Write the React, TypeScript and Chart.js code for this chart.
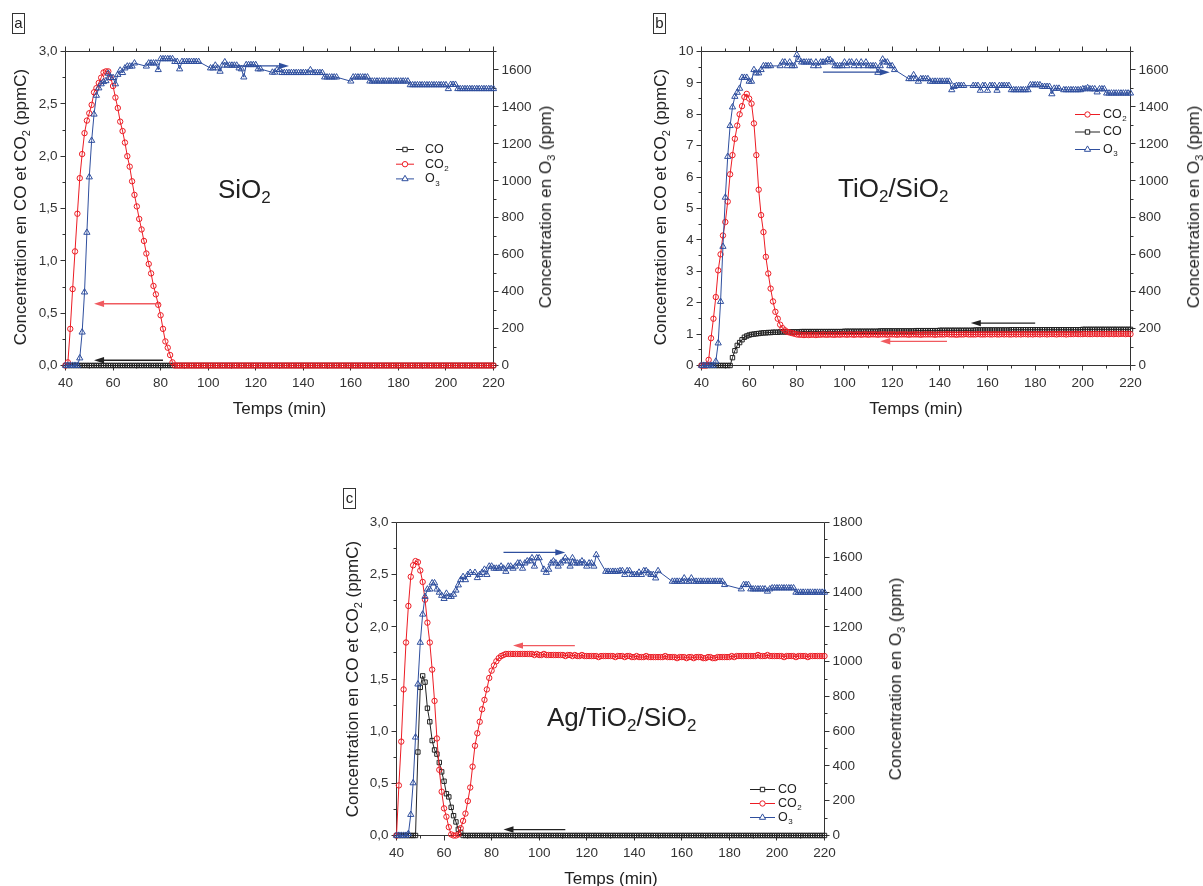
import React, { useEffect, useRef } from "react";
import { Chart, registerables } from "chart.js";

Chart.register(...registerables);

const FONT = '"Liberation Sans", Arial, Helvetica, sans-serif';
const RED = "#ec1c24";
const RED_ARROW = "#f05a5f";
const BLACK = "#222222";
const BLUE = "#2f4f9e";
const AXIS = "#333333";
const TEXT = "#222222";

// time axis (min)
const TIME = [
  40, 41, 42, 43, 44, 45, 46, 47, 48, 49,
  50, 51, 52, 53, 54, 55, 56, 57, 58, 59,
  60, 61, 62, 63, 64, 65, 66, 67, 68, 69,
  70, 71, 72, 73, 74, 75, 76, 77, 78, 79,
  80, 81, 82, 83, 84, 85, 86, 87, 88, 89,
  90, 91, 92, 93, 94, 95, 96, 97, 98, 99,
  100, 101, 102, 103, 104, 105, 106, 107, 108, 109,
  110, 111, 112, 113, 114, 115, 116, 117, 118, 119,
  120, 121, 122, 123, 124, 125, 126, 127, 128, 129,
  130, 131, 132, 133, 134, 135, 136, 137, 138, 139,
  140, 141, 142, 143, 144, 145, 146, 147, 148, 149,
  150, 151, 152, 153, 154, 155, 156, 157, 158, 159,
  160, 161, 162, 163, 164, 165, 166, 167, 168, 169,
  170, 171, 172, 173, 174, 175, 176, 177, 178, 179,
  180, 181, 182, 183, 184, 185, 186, 187, 188, 189,
  190, 191, 192, 193, 194, 195, 196, 197, 198, 199,
  200, 201, 202, 203, 204, 205, 206, 207, 208, 209,
  210, 211, 212, 213, 214, 215, 216, 217, 218, 219,
  220,
];

const X_TICKS = [40, 60, 80, 100, 120, 140, 160, 180, 200, 220];
const Y_TICKS_AC = [0, 0.5, 1, 1.5, 2, 2.5, 3];
const Y_TICKS_B = [0, 1, 2, 3, 4, 5, 6, 7, 8, 9, 10];
const O3_TICKS_AB = [0, 200, 400, 600, 800, 1000, 1200, 1400, 1600];
const O3_TICKS_C = [0, 200, 400, 600, 800, 1000, 1200, 1400, 1600, 1800];

// ---------- Panel a : SiO2 ----------
const A_CO = [
  0, 0, 0, 0, 0, 0, 0, 0, 0, 0,
  0, 0, 0, 0, 0, 0, 0, 0, 0, 0,
  0, 0, 0, 0, 0, 0, 0, 0, 0, 0,
  0, 0, 0, 0, 0, 0, 0, 0, 0, 0,
  0, 0, 0, 0, 0, 0, 0, 0, 0, 0,
  0, 0, 0, 0, 0, 0, 0, 0, 0, 0,
  0, 0, 0, 0, 0, 0, 0, 0, 0, 0,
  0, 0, 0, 0, 0, 0, 0, 0, 0, 0,
  0, 0, 0, 0, 0, 0, 0, 0, 0, 0,
  0, 0, 0, 0, 0, 0, 0, 0, 0, 0,
  0, 0, 0, 0, 0, 0, 0, 0, 0, 0,
  0, 0, 0, 0, 0, 0, 0, 0, 0, 0,
  0, 0, 0, 0, 0, 0, 0, 0, 0, 0,
  0, 0, 0, 0, 0, 0, 0, 0, 0, 0,
  0, 0, 0, 0, 0, 0, 0, 0, 0, 0,
  0, 0, 0, 0, 0, 0, 0, 0, 0, 0,
  0, 0, 0, 0, 0, 0, 0, 0, 0, 0,
  0, 0, 0, 0, 0, 0, 0, 0, 0, 0,
  0,
];
const A_CO2 = [
  0, 0.03, 0.35, 0.73, 1.09, 1.45, 1.79, 2.02, 2.22, 2.34,
  2.41, 2.49, 2.61, 2.65, 2.7, 2.75, 2.8, 2.81, 2.81, 2.75,
  2.67, 2.56, 2.46, 2.33, 2.24, 2.13, 2.0, 1.9, 1.76, 1.63,
  1.52, 1.4, 1.3, 1.19, 1.07, 0.97, 0.88, 0.76, 0.68, 0.58,
  0.48, 0.35, 0.23, 0.17, 0.1, 0.03, 0, 0, 0, 0,
  0, 0, 0, 0, 0, 0, 0, 0, 0, 0,
  0, 0, 0, 0, 0, 0, 0, 0, 0, 0,
  0, 0, 0, 0, 0, 0, 0, 0, 0, 0,
  0, 0, 0, 0, 0, 0, 0, 0, 0, 0,
  0, 0, 0, 0, 0, 0, 0, 0, 0, 0,
  0, 0, 0, 0, 0, 0, 0, 0, 0, 0,
  0, 0, 0, 0, 0, 0, 0, 0, 0, 0,
  0, 0, 0, 0, 0, 0, 0, 0, 0, 0,
  0, 0, 0, 0, 0, 0, 0, 0, 0, 0,
  0, 0, 0, 0, 0, 0, 0, 0, 0, 0,
  0, 0, 0, 0, 0, 0, 0, 0, 0, 0,
  0, 0, 0, 0, 0, 0, 0, 0, 0, 0,
  0, 0, 0, 0, 0, 0, 0, 0, 0, 0,
  0,
];
const A_O3 = [
  0, 0, 0, 0, 0, 0, 40, 180, 397, 720,
  1020, 1218, 1360, 1462, 1502, 1524, 1536, 1541, 1581, 1558,
  1558, 1524, 1575, 1598, 1585, 1610, 1620, 1620, 1620, 1637,
  null, null, null, null, 1620, 1637, 1637, 1637, 1637, 1601,
  1660, 1660, 1660, 1660, 1660, 1660, 1645, 1645, 1605, 1645,
  1645, 1645, 1645, 1645, 1645, 1645, 1645, null, null, null,
  null, 1610, 1610, 1625, 1610, 1592, 1625, 1643, 1625, 1625,
  1625, 1625, 1625, 1610, 1605, 1561, 1628, 1628, 1628, 1628,
  1628, 1605, 1605, null, null, null, null, 1587, 1587, 1601,
  1601, 1585, 1585, 1585, 1585, 1585, 1585, 1585, 1585, 1585,
  1585, 1585, 1585, 1600, 1585, 1585, 1585, 1585, 1585, 1561,
  1561, 1561, 1561, 1561, 1561, null, null, null, null, null,
  1539, 1561, 1561, 1561, 1561, 1561, 1561, 1561, 1539, 1539,
  1539, 1539, 1539, 1539, 1539, 1539, 1539, 1539, 1539, 1539,
  1539, 1539, 1539, 1539, 1539, 1519, 1519, 1519, 1519, 1519,
  1519, 1519, 1519, 1519, 1519, 1519, 1519, 1519, 1519, 1519,
  1519, 1498, 1521, 1521, 1521, 1498, 1498, 1498, 1498, 1498,
  1498, 1498, 1498, 1498, 1498, 1498, 1498, 1498, 1498, 1498,
  1498,
];

// ---------- Panel b : TiO2/SiO2 ----------
const B_CO2 = [
  0, 0, 0, 0.18, 0.87, 1.49, 2.18, 3.03, 3.54, 4.14,
  4.57, 5.22, 6.09, 6.7, 7.22, 7.64, 8.0, 8.26, 8.55, 8.65,
  8.5, 8.34, 7.71, 6.7, 5.6, 4.79, 4.25, 3.46, 2.93, 2.45,
  2.04, 1.71, 1.49, 1.3, 1.19, 1.12, 1.07, 1.05, 1.03, 1.01,
  0.99, 0.98, 0.98, 0.97, 0.98, 0.97, 0.98, 0.98, 0.97, 0.98,
  0.98, 0.99, 0.98, 0.98, 0.99, 0.98, 0.98, 0.99, 0.98, 0.99,
  0.99, 0.98, 0.99, 0.99, 0.98, 0.99, 0.99, 0.98, 0.99, 0.99,
  0.98, 0.99, 0.99, 0.99, 0.98, 0.99, 0.99, 0.99, 0.98, 0.99,
  0.99, 0.99, 0.98, 0.99, 0.99, 0.99, 0.99, 0.98, 0.99, 0.99,
  0.99, 0.99, 0.98, 0.99, 0.99, 0.99, 0.99, 0.99, 0.98, 0.99,
  0.99, 0.99, 0.99, 1.0, 0.99, 0.99, 0.99, 0.98, 0.99, 0.99,
  0.99, 1.0, 0.99, 0.99, 0.99, 0.99, 1.0, 0.99, 0.99, 0.99,
  1.0, 0.99, 0.99, 1.0, 0.99, 0.99, 1.0, 0.99, 1.0, 0.99,
  0.99, 1.0, 0.99, 1.0, 0.99, 1.0, 1.0, 0.99, 1.0, 0.99,
  1.0, 1.0, 0.99, 1.0, 1.0, 0.99, 1.0, 1.0, 1.0, 0.99,
  1.0, 1.0, 1.0, 0.99, 1.0, 1.0, 1.0, 1.01, 1.0, 1.0,
  1.0, 1.01, 1.0, 1.0, 1.0, 1.01, 1.0, 1.01, 1.0, 1.0,
  1.01, 1.0, 1.01, 1.0, 1.01, 1.0, 1.01, 1.01, 1.0, 1.01,
  1.0,
];
const B_CO = [
  0, 0, 0, 0, 0, 0, 0, 0, 0, 0,
  0, 0, 0, 0.25, 0.47, 0.64, 0.73, 0.82, 0.9, 0.94,
  0.97, 0.99, 1.0, 1.01, 1.02, 1.03, 1.04, 1.04, 1.05, 1.05,
  1.06, 1.06, 1.06, 1.07, 1.07, 1.07, 1.07, 1.07, 1.07, 1.07,
  1.07, 1.07, 1.08, 1.08, 1.08, 1.08, 1.08, 1.08, 1.08, 1.08,
  1.08, 1.08, 1.08, 1.08, 1.08, 1.08, 1.08, 1.08, 1.08, 1.08,
  1.09, 1.09, 1.09, 1.09, 1.09, 1.09, 1.09, 1.09, 1.09, 1.09,
  1.09, 1.09, 1.09, 1.09, 1.09, 1.1, 1.1, 1.1, 1.1, 1.1,
  1.1, 1.1, 1.1, 1.1, 1.1, 1.1, 1.1, 1.1, 1.1, 1.1,
  1.11, 1.11, 1.11, 1.11, 1.11, 1.11, 1.11, 1.11, 1.11, 1.11,
  1.12, 1.12, 1.12, 1.12, 1.12, 1.12, 1.12, 1.12, 1.12, 1.12,
  1.12, 1.12, 1.12, 1.12, 1.12, 1.13, 1.13, 1.13, 1.13, 1.13,
  1.13, 1.13, 1.13, 1.13, 1.13, 1.13, 1.13, 1.13, 1.13, 1.13,
  1.14, 1.14, 1.14, 1.14, 1.14, 1.14, 1.14, 1.14, 1.14, 1.14,
  1.14, 1.14, 1.14, 1.14, 1.14, 1.14, 1.14, 1.14, 1.14, 1.14,
  1.14, 1.14, 1.14, 1.14, 1.14, 1.14, 1.14, 1.14, 1.14, 1.14,
  1.15, 1.15, 1.15, 1.15, 1.15, 1.15, 1.15, 1.15, 1.15, 1.15,
  1.15, 1.15, 1.15, 1.15, 1.15, 1.15, 1.15, 1.15, 1.15, 1.15,
  1.15,
];
const B_O3 = [
  0, 0, 0, 0, 0, 0, 22, 121, 346, 644,
  910, 1131, 1298, 1399, 1456, 1478, 1500, 1559, 1559, 1559,
  1538, 1538, 1601, 1583, 1583, 1601, 1622, 1622, 1622, 1622,
  null, null, null, 1622, 1642, 1642, 1622, 1642, 1622, 1622,
  1682, 1655, 1642, 1642, 1642, 1642, 1642, 1622, 1642, 1622,
  1642, 1642, 1642, 1655, 1655, 1642, 1622, 1622, 1622, 1622,
  1642, 1622, 1642, 1642, 1622, 1642, 1622, 1642, 1622, 1642,
  1622, 1622, 1622, 1622, 1586, 1622, 1658, 1642, 1642, 1622,
  1622, 1601, null, null, null, null, null, 1552, 1552, 1573,
  1552, 1538, 1552, 1552, 1552, 1552, 1538, 1538, 1538, 1538,
  1538, 1538, 1538, 1538, 1538, 1492, 1510, 1515, 1515, 1515,
  1515, null, null, null, 1515, 1515, 1515, 1489, 1515, 1515,
  1489, 1515, 1515, 1515, 1489, 1515, 1515, 1515, 1515, 1515,
  1492, 1492, 1492, 1492, 1492, 1492, 1492, 1492, 1519, 1519,
  1519, 1519, 1519, 1510, 1510, 1510, 1510, 1470, 1500, 1500,
  1500, null, 1492, 1492, 1492, 1492, 1492, 1492, 1492, 1492,
  1497, 1497, 1503, 1497, 1497, 1497, 1480, 1497, 1497, 1497,
  1474, 1474, 1474, 1474, 1474, 1474, 1474, 1474, 1474, 1474,
  1474,
];

// ---------- Panel c : Ag/TiO2/SiO2 ----------
const C_CO = [
  0, 0, 0, 0, 0, 0, 0, 0, 0, 0.8,
  1.42, 1.53, 1.47, 1.22, 1.09, 0.91, 0.82, 0.78, 0.7, 0.61,
  0.52, 0.4, 0.37, 0.27, 0.19, 0.13, 0.06, 0.03, 0, 0,
  0, 0, 0, 0, 0, 0, 0, 0, 0, 0,
  0, 0, 0, 0, 0, 0, 0, 0, 0, 0,
  0, 0, 0, 0, 0, 0, 0, 0, 0, 0,
  0, 0, 0, 0, 0, 0, 0, 0, 0, 0,
  0, 0, 0, 0, 0, 0, 0, 0, 0, 0,
  0, 0, 0, 0, 0, 0, 0, 0, 0, 0,
  0, 0, 0, 0, 0, 0, 0, 0, 0, 0,
  0, 0, 0, 0, 0, 0, 0, 0, 0, 0,
  0, 0, 0, 0, 0, 0, 0, 0, 0, 0,
  0, 0, 0, 0, 0, 0, 0, 0, 0, 0,
  0, 0, 0, 0, 0, 0, 0, 0, 0, 0,
  0, 0, 0, 0, 0, 0, 0, 0, 0, 0,
  0, 0, 0, 0, 0, 0, 0, 0, 0, 0,
  0, 0, 0, 0, 0, 0, 0, 0, 0, 0,
  0, 0, 0, 0, 0, 0, 0, 0, 0, 0,
  0,
];
const C_CO2 = [
  0, 0.48, 0.9, 1.4, 1.85, 2.2, 2.48, 2.59, 2.63, 2.62,
  2.54, 2.43, 2.26, 2.04, 1.85, 1.59, 1.29, 0.93, 0.63, 0.42,
  0.26, 0.18, 0.08, 0.01, 0, 0, 0.01, 0.07, 0.14, 0.21,
  0.33, 0.46, 0.66, 0.86, 0.98, 1.09, 1.21, 1.3, 1.4, 1.51,
  1.58, 1.63, 1.67, 1.7, 1.72, 1.73, 1.74, 1.74, 1.74, 1.74,
  1.74, 1.74, 1.74, 1.74, 1.74, 1.74, 1.74, 1.74, 1.73, 1.74,
  1.73, 1.73, 1.74, 1.73, 1.73, 1.73, 1.73, 1.73, 1.73, 1.73,
  1.73, 1.72, 1.73, 1.73, 1.72, 1.73, 1.72, 1.72, 1.73, 1.72,
  1.72, 1.72, 1.72, 1.72, 1.72, 1.71, 1.72, 1.72, 1.72, 1.72,
  1.72, 1.72, 1.71, 1.72, 1.72, 1.72, 1.71, 1.72, 1.72, 1.71,
  1.71, 1.72, 1.71, 1.71, 1.71, 1.72, 1.71, 1.71, 1.71, 1.71,
  1.71, 1.71, 1.71, 1.72, 1.71, 1.71, 1.71, 1.71, 1.7, 1.71,
  1.71, 1.71, 1.7, 1.71, 1.71, 1.7, 1.71, 1.71, 1.71, 1.7,
  1.7, 1.71, 1.71, 1.7, 1.7, 1.71, 1.71, 1.71, 1.71, 1.71,
  1.71, 1.72, 1.71, 1.72, 1.72, 1.72, 1.72, 1.72, 1.72, 1.72,
  1.72, 1.72, 1.73, 1.72, 1.72, 1.72, 1.73, 1.72, 1.72, 1.72,
  1.72, 1.72, 1.72, 1.71, 1.72, 1.72, 1.72, 1.72, 1.71, 1.72,
  1.72, 1.72, 1.72, 1.71, 1.72, 1.72, 1.72, 1.72, 1.72, 1.72,
  1.72,
];
const C_O3 = [
  0, 0, 0, 0, 0, 10, 120, 302, 565, 870,
  1110, 1272, 1374, 1416, 1416, 1452, 1452, 1416, 1398, 1380,
  1362, 1392, 1374, 1374, 1386, 1410, 1440, 1470, 1488, 1470,
  1500, 1512, null, 1512, 1482, 1500, 1512, 1530, 1500, 1548,
  1548, 1536, 1536, 1536, 1548, 1536, 1518, 1548, 1548, 1536,
  1548, 1566, 1566, 1536, 1566, 1578, 1578, 1596, 1548, 1596,
  1596, null, 1530, 1512, 1530, 1566, 1578, 1566, 1548, 1566,
  1578, 1596, 1578, 1548, 1596, 1566, 1566, 1566, 1578, 1566,
  1548, 1566, 1566, 1548, 1614, null, null, null, 1518, 1518,
  1518, 1518, 1518, 1518, 1522, 1522, 1500, 1522, 1522, 1500,
  1500, 1500, 1513, 1500, 1522, 1522, 1509, 1500, 1500, 1480,
  1522, null, null, null, null, null, 1461, 1461, 1461, 1461,
  1461, 1480, 1461, 1461, 1480, 1461, 1461, 1461, 1461, 1461,
  1461, 1461, 1461, 1461, 1461, 1461, 1461, 1461, 1442, null,
  null, null, null, null, null, 1417, 1442, 1442, 1442, 1417,
  1417, 1417, 1417, 1417, 1417, 1417, 1404, 1417, 1423, 1423,
  1423, 1423, 1423, 1423, 1423, 1423, 1423, 1423, 1398, 1398,
  1398, 1398, 1398, 1398, 1398, 1398, 1398, 1398, 1398, 1398,
  1398,
];

// arrows: from time -> to time, at a level on the given axis
const A_ARROWS = [
  { from: 80, to: 52, level: 0.59, axis: "y", color: RED_ARROW },
  { from: 81, to: 52, level: 0.05, axis: "y", color: BLACK },
  { from: 112, to: 134, level: 1622, axis: "y1", color: BLUE },
];
const B_ARROWS = [
  { from: 91, to: 119, level: 1588, axis: "y1", color: BLUE },
  { from: 143, to: 115, level: 0.77, axis: "y", color: RED_ARROW },
  { from: 180, to: 153, level: 1.35, axis: "y", color: BLACK },
];
const C_ARROWS = [
  { from: 85, to: 111, level: 1628, axis: "y1", color: BLUE },
  { from: 115, to: 89, level: 1.82, axis: "y", color: RED_ARROW },
  { from: 111, to: 85, level: 0.057, axis: "y", color: BLACK },
];

type Style = "circle" | "rect" | "triangle";
interface SeriesDef {
  label: string;
  sub: string;
  data: (number | null)[];
  color: string;
  style: Style;
  axis: "y" | "y1";
}

const coA: SeriesDef = { label: "CO", sub: "", data: A_CO, color: BLACK, style: "rect", axis: "y" };
const co2A: SeriesDef = { label: "CO", sub: "2", data: A_CO2, color: RED, style: "circle", axis: "y" };
const o3A: SeriesDef = { label: "O", sub: "3", data: A_O3, color: BLUE, style: "triangle", axis: "y1" };
const coB: SeriesDef = { label: "CO", sub: "", data: B_CO, color: BLACK, style: "rect", axis: "y" };
const co2B: SeriesDef = { label: "CO", sub: "2", data: B_CO2, color: RED, style: "circle", axis: "y" };
const o3B: SeriesDef = { label: "O", sub: "3", data: B_O3, color: BLUE, style: "triangle", axis: "y1" };
const coC: SeriesDef = { label: "CO", sub: "", data: C_CO, color: BLACK, style: "rect", axis: "y" };
const co2C: SeriesDef = { label: "CO", sub: "2", data: C_CO2, color: RED, style: "circle", axis: "y" };
const o3C: SeriesDef = { label: "O", sub: "3", data: C_O3, color: BLUE, style: "triangle", axis: "y1" };

const RADIUS: Record<Style, number> = { circle: 2.7, rect: 3.1, triangle: 3.6 };

interface PanelDef {
  x: number; y: number; w: number; h: number;
  area: { left: number; right: number; top: number; bottom: number };
  yMax: number; yMajor: number; yMinor: number; yTicks: number[]; yFmt: (v: number) => string;
  y1Max: number; y1Ticks: number[];
  topTicks: boolean;
  draw: SeriesDef[];
  legend: SeriesDef[];
  legendPos: { x1: number; x2: number; tx: number; y0: number; dy: number };
  arrows: any[];
}

const commaFmt = (v: number) => v.toFixed(1).replace(".", ",");
const intFmt = (v: number) => String(v);

const PANEL_A: PanelDef = {
  x: 0, y: 0, w: 600, h: 440,
  area: { left: 65.5, right: 493.5, top: 51.5, bottom: 365.5 },
  yMax: 3, yMajor: 0.5, yMinor: 0.25, yTicks: Y_TICKS_AC, yFmt: commaFmt,
  y1Max: 1700, y1Ticks: O3_TICKS_AB,
  topTicks: true,
  draw: [o3A, co2A, coA],
  legend: [coA, co2A, o3A],
  legendPos: { x1: 396, x2: 414, tx: 425, y0: 149.5, dy: 14.7 },
  arrows: A_ARROWS,
};
const PANEL_B: PanelDef = {
  x: 600, y: 0, w: 603, h: 440,
  area: { left: 101.5, right: 530.5, top: 51.5, bottom: 365.5 },
  yMax: 10, yMajor: 1, yMinor: 0.5, yTicks: Y_TICKS_B, yFmt: intFmt,
  y1Max: 1700, y1Ticks: O3_TICKS_AB,
  topTicks: true,
  draw: [o3B, co2B, coB],
  legend: [co2B, coB, o3B],
  legendPos: { x1: 475, x2: 500, tx: 503, y0: 114.5, dy: 17.5 },
  arrows: B_ARROWS,
};
const PANEL_C: PanelDef = {
  x: 300, y: 470, w: 660, h: 416,
  area: { left: 96.5, right: 524.5, top: 52.5, bottom: 365.5 },
  yMax: 3, yMajor: 0.5, yMinor: 0.25, yTicks: Y_TICKS_AC, yFmt: commaFmt,
  y1Max: 1800, y1Ticks: O3_TICKS_C,
  topTicks: false,
  draw: [o3C, co2C, coC],
  legend: [coC, co2C, o3C],
  legendPos: { x1: 450, x2: 475, tx: 478, y0: 319.5, dy: 14 },
  arrows: C_ARROWS,
};

function drawMarker(ctx: CanvasRenderingContext2D, style: Style, x: number, y: number, color: string) {
  const r = RADIUS[style];
  ctx.save();
  ctx.strokeStyle = color;
  ctx.fillStyle = "#ffffff";
  ctx.lineWidth = 1;
  ctx.beginPath();
  if (style === "circle") {
    ctx.arc(x, y, r, 0, Math.PI * 2);
  } else if (style === "rect") {
    const s = r * Math.SQRT1_2;
    ctx.rect(x - s, y - s, 2 * s, 2 * s);
  } else {
    ctx.moveTo(x, y - r);
    ctx.lineTo(x + 0.866 * r, y + 0.5 * r);
    ctx.lineTo(x - 0.866 * r, y + 0.5 * r);
    ctx.closePath();
  }
  ctx.fill();
  ctx.stroke();
  ctx.restore();
}

function makePlugin(p: PanelDef) {
  return {
    id: "frameNotes",
    beforeDatasetsDraw(chart: any) {
      const { ctx, chartArea: a, scales } = chart;
      const px = (v: number) => Math.floor(v) + 0.5;
      const L = px(a.left), R = px(a.right), T = px(a.top), B = px(a.bottom);
      ctx.save();
      ctx.strokeStyle = AXIS;
      ctx.lineWidth = 1;
      ctx.beginPath();
      ctx.rect(L, T, R - L, B - T);
      const xs = scales.x;
      const nX = Math.round((xs.max - xs.min) / 10);
      for (let i = 0; i <= nX; i++) {
        const v = xs.min + i * 10;
        const x = px(xs.getPixelForValue(v));
        const len = i % 2 === 0 ? 5 : 3;
        ctx.moveTo(x, B);
        ctx.lineTo(x, B + len);
        if (p.topTicks) {
          ctx.moveTo(x, T);
          ctx.lineTo(x, T - len);
        }
      }
      const ys = scales.y;
      const nY = Math.round(p.yMax / p.yMinor);
      const every = Math.round(p.yMajor / p.yMinor);
      for (let i = 0; i <= nY; i++) {
        const y = px(ys.getPixelForValue(i * p.yMinor));
        const len = i % every === 0 ? 5 : 3;
        ctx.moveTo(L, y);
        ctx.lineTo(L - len, y);
      }
      const y1s = scales.y1;
      const nY1 = Math.floor(p.y1Max / 100);
      for (let i = 0; i <= nY1; i++) {
        const y = px(y1s.getPixelForValue(i * 100));
        const len = i % 2 === 0 ? 5 : 3;
        ctx.moveTo(R, y);
        ctx.lineTo(R + len, y);
      }
      ctx.stroke();
      ctx.restore();
    },
    afterDatasetsDraw(chart: any) {
      const { ctx, scales } = chart;
      p.arrows.forEach((ar: any) => {
        const y = scales[ar.axis].getPixelForValue(ar.level);
        const x1 = scales.x.getPixelForValue(ar.from);
        const x2 = scales.x.getPixelForValue(ar.to);
        const dir = Math.sign(x2 - x1);
        ctx.save();
        ctx.strokeStyle = ar.color;
        ctx.fillStyle = ar.color;
        ctx.lineWidth = 1.3;
        ctx.beginPath();
        ctx.moveTo(x1, y);
        ctx.lineTo(x2 - dir * 6, y);
        ctx.stroke();
        ctx.beginPath();
        ctx.moveTo(x2, y);
        ctx.lineTo(x2 - dir * 10, y - 3.2);
        ctx.lineTo(x2 - dir * 10, y + 3.2);
        ctx.closePath();
        ctx.fill();
        ctx.restore();
      });
      const lp = p.legendPos;
      p.legend.forEach((s, i) => {
        const y = lp.y0 + i * lp.dy;
        ctx.save();
        ctx.strokeStyle = s.color;
        ctx.lineWidth = 1;
        ctx.beginPath();
        ctx.moveTo(lp.x1, y);
        ctx.lineTo(lp.x2, y);
        ctx.stroke();
        ctx.restore();
        drawMarker(ctx, s.style, (lp.x1 + lp.x2) / 2, y, s.color);
        ctx.save();
        ctx.fillStyle = TEXT;
        ctx.textBaseline = "middle";
        ctx.font = `12.5px ${FONT}`;
        ctx.fillText(s.label, lp.tx, y);
        if (s.sub) {
          const w = ctx.measureText(s.label).width;
          ctx.font = `8px ${FONT}`;
          ctx.fillText(s.sub, lp.tx + w + 0.5, y + 4.5);
        }
        ctx.restore();
      });
    },
  };
}

function buildConfig(p: PanelDef): any {
  const tickFont = { family: FONT, size: 13.5 };
  const datasets = p.draw.map((s) => ({
    label: s.label + s.sub,
    data: TIME.map((t, i) => ({ x: t, y: s.data[i] })),
    yAxisID: s.axis,
    borderColor: s.color,
    borderWidth: 1,
    pointStyle: s.style,
    pointRadius: RADIUS[s.style],
    pointBorderColor: s.color,
    pointBackgroundColor: "rgba(255,255,255,0)",
    pointBorderWidth: 1,
    tension: 0,
    spanGaps: true,
    fill: false,
    clip: false,
  }));
  return {
    type: "line",
    data: { datasets },
    options: {
      animation: false,
      responsive: false,
      maintainAspectRatio: false,
      events: [],
      layout: { padding: { top: p.area.top, left: 0, right: 0, bottom: 0 } },
      plugins: { legend: { display: false }, tooltip: { enabled: false }, title: { display: false } },
      scales: {
        x: {
          type: "linear",
          position: "bottom",
          min: 40,
          max: 220,
          grid: { display: false, drawTicks: false },
          border: { display: false },
          ticks: { font: tickFont, color: "#333", padding: 10, maxRotation: 0, autoSkip: false },
          afterBuildTicks: (s: any) => {
            s.ticks = X_TICKS.map((v) => ({ value: v }));
          },
          afterFit: (s: any) => {
            s.height = p.h - p.area.bottom;
          },
        },
        y: {
          type: "linear",
          position: "left",
          min: 0,
          max: p.yMax,
          grid: { display: false, drawTicks: false },
          border: { display: false },
          ticks: { font: tickFont, color: "#333", padding: 8, autoSkip: false, callback: (v: any) => p.yFmt(Number(v)) },
          afterBuildTicks: (s: any) => {
            s.ticks = p.yTicks.map((v) => ({ value: v }));
          },
          afterFit: (s: any) => {
            s.width = p.area.left;
          },
        },
        y1: {
          type: "linear",
          position: "right",
          min: 0,
          max: p.y1Max,
          grid: { display: false, drawTicks: false },
          border: { display: false },
          ticks: { font: tickFont, color: "#333", padding: 8, autoSkip: false, callback: (v: any) => String(v) },
          afterBuildTicks: (s: any) => {
            s.ticks = p.y1Ticks.map((v) => ({ value: v }));
          },
          afterFit: (s: any) => {
            s.width = p.w - p.area.right;
          },
        },
      },
    },
    plugins: [makePlugin(p)],
  };
}

function Panel({ p }: { p: PanelDef }) {
  const ref = useRef<HTMLCanvasElement | null>(null);
  useEffect(() => {
    if (!ref.current) return;
    const chart = new Chart(ref.current, buildConfig(p));
    return () => chart.destroy();
  }, []);
  return (
    <canvas
      ref={ref}
      width={p.w}
      height={p.h}
      style={{ position: "absolute", left: p.x, top: p.y, width: p.w, height: p.h }}
    />
  );
}

const Sub = ({ children, size, drop }: any) => (
  <span style={{ fontSize: size, position: "relative", top: drop, lineHeight: 1 }}>{children}</span>
);

function AxisTitle({ x, y, rotate, children }: any) {
  return (
    <div
      style={{
        position: "absolute",
        left: x,
        top: y,
        transform: `translate(-50%, -50%)${rotate ? " rotate(-90deg)" : ""}`,
        whiteSpace: "nowrap",
        fontFamily: FONT,
        fontSize: 17,
        lineHeight: "20px",
        color: TEXT,
      }}
    >
      {children}
    </div>
  );
}

const LeftTitle = () => (
  <>
    Concentration en CO et CO<Sub size={11} drop={4}>2</Sub> (ppmC)
  </>
);
const RightTitle = () => (
  <>
    Concentration en O<Sub size={11} drop={4}>3</Sub> (ppm)
  </>
);

function BigLabel({ x, y, children }: any) {
  return (
    <div
      style={{
        position: "absolute",
        left: x,
        top: y,
        whiteSpace: "nowrap",
        fontFamily: FONT,
        fontSize: 26,
        lineHeight: "26px",
        color: TEXT,
      }}
    >
      {children}
    </div>
  );
}

function PanelTag({ x, y, children }: any) {
  return (
    <div
      style={{
        position: "absolute",
        left: x,
        top: y,
        width: 13,
        height: 21,
        boxSizing: "border-box",
        border: "1px solid #333",
        fontFamily: FONT,
        fontSize: 15,
        lineHeight: "18px",
        textAlign: "center",
        color: TEXT,
      }}
    >
      {children}
    </div>
  );
}

export default function App() {
  return (
    <div style={{ position: "absolute", left: 0, top: 0, width: 1203, height: 886, background: "#fff", overflow: "hidden" }}>
      <Panel p={PANEL_A} />
      <Panel p={PANEL_B} />
      <Panel p={PANEL_C} />

      <PanelTag x={12} y={13}>a</PanelTag>
      <PanelTag x={653} y={13}>b</PanelTag>
      <PanelTag x={343} y={488}>c</PanelTag>

      <AxisTitle x={21} y={207} rotate><LeftTitle /></AxisTitle>
      <AxisTitle x={546} y={207} rotate><RightTitle /></AxisTitle>
      <AxisTitle x={279.5} y={409}>Temps (min)</AxisTitle>

      <AxisTitle x={661} y={207} rotate><LeftTitle /></AxisTitle>
      <AxisTitle x={1194} y={207} rotate><RightTitle /></AxisTitle>
      <AxisTitle x={916} y={409}>Temps (min)</AxisTitle>

      <AxisTitle x={353} y={679} rotate><LeftTitle /></AxisTitle>
      <AxisTitle x={896} y={679} rotate><RightTitle /></AxisTitle>
      <AxisTitle x={611} y={879}>Temps (min)</AxisTitle>

      <BigLabel x={218} y={176}>
        SiO<Sub size={17} drop={5}>2</Sub>
      </BigLabel>
      <BigLabel x={838} y={175}>
        TiO<Sub size={17} drop={5}>2</Sub>/SiO<Sub size={17} drop={5}>2</Sub>
      </BigLabel>
      <BigLabel x={547} y={704}>
        Ag/TiO<Sub size={17} drop={5}>2</Sub>/SiO<Sub size={17} drop={5}>2</Sub>
      </BigLabel>
    </div>
  );
}
